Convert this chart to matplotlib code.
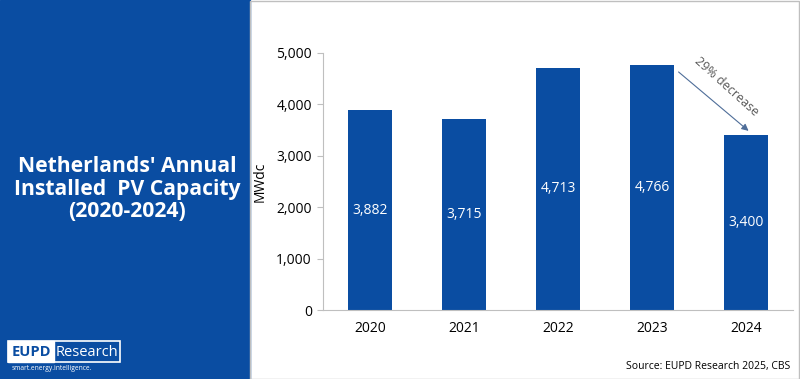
import matplotlib.pyplot as plt
from matplotlib.patches import Rectangle

years = ['2020', '2021', '2022', '2023', '2024']
capacity = [3882, 3715, 4713, 4766, 3400]
yticks = [0, 1000, 2000, 3000, 4000, 5000]

blue = '#0A4DA2'
grey = '#595959'

fig = plt.figure(figsize=(8, 3.79), dpi=100)
plt.rcParams['font.family'] = ['Open Sans', 'DejaVu Sans']

# left blue panel and right panel border
fig.patches.append(Rectangle((0, 0), 250/800, 1, transform=fig.transFigure, color=blue, zorder=0))
fig.patches.append(Rectangle((250/800, 0.5/379), 549/800, 377.5/379, transform=fig.transFigure,
                             fill=False, edgecolor='#BFBFBF', linewidth=1, zorder=0))

fig.text(127/800, 1 - 189/379, "Netherlands' Annual\nInstalled  PV Capacity\n(2020-2024)",
         color='white', fontsize=15.2, fontweight='bold', ha='center', va='center', linespacing=1.1)

# logo
fig.patches.append(Rectangle((8/800, 1 - 362/379), 112/800, 21/379, transform=fig.transFigure,
                             fill=False, edgecolor='white', linewidth=1.2))
fig.patches.append(Rectangle((8/800, 1 - 362/379), 46/800, 21/379, transform=fig.transFigure,
                             color='white'))
fig.text(31/800, 1 - 352/379, 'EUPD', color=blue, fontsize=10.5, fontweight='bold', ha='center', va='center')
fig.text(87/800, 1 - 352/379, 'Research', color='white', fontsize=10.5, ha='center', va='center')
fig.text(12/800, 1 - 369/379, 'smart.energy.intelligence.', color='white', fontsize=4.8, ha='left', va='center')

ax = fig.add_axes([323/800, 69/379, 470/800, 257/379])
x = range(len(years))
bars = ax.bar(x, capacity, width=0.47, color=blue, zorder=2)
for i, v in enumerate(capacity):
    ax.text(i, v / 2, f'{v:,}', color='white', fontsize=10, ha='center', va='center')

ax.set_xticks(list(x))
ax.set_xticklabels(years, fontsize=10, color='black')
ax.set_xlim(-0.5, 4.5)
ax.set_ylim(0, 5000)
ax.set_yticks(yticks)
ax.set_yticklabels([f'{t:,}' for t in yticks], fontsize=10)
ax.set_ylabel('MWdc', fontsize=10, labelpad=6)
ax.tick_params(axis='x', length=0, pad=8)
ax.tick_params(axis='y', length=4, color='#BFBFBF', pad=4)
for s in ['top', 'right']:
    ax.spines[s].set_visible(False)
for s in ['left', 'bottom']:
    ax.spines[s].set_color('#BFBFBF')

ax.annotate('', xy=(4.05, capacity[4] + 50), xytext=(3.26, capacity[3] - 100),
            arrowprops=dict(arrowstyle='-|>', color='#4F6E99', lw=0.8, mutation_scale=10))
ax.text(3.79, 4350, '29% decrease', color=grey, fontsize=9, rotation=-42,
        ha='center', va='center', rotation_mode='anchor')

fig.text(790/800, 1 - 366/379, 'Source: EUPD Research 2025, CBS', fontsize=7.5, color='black',
         ha='right', va='center')

fig.savefig('out.png', dpi=100)
